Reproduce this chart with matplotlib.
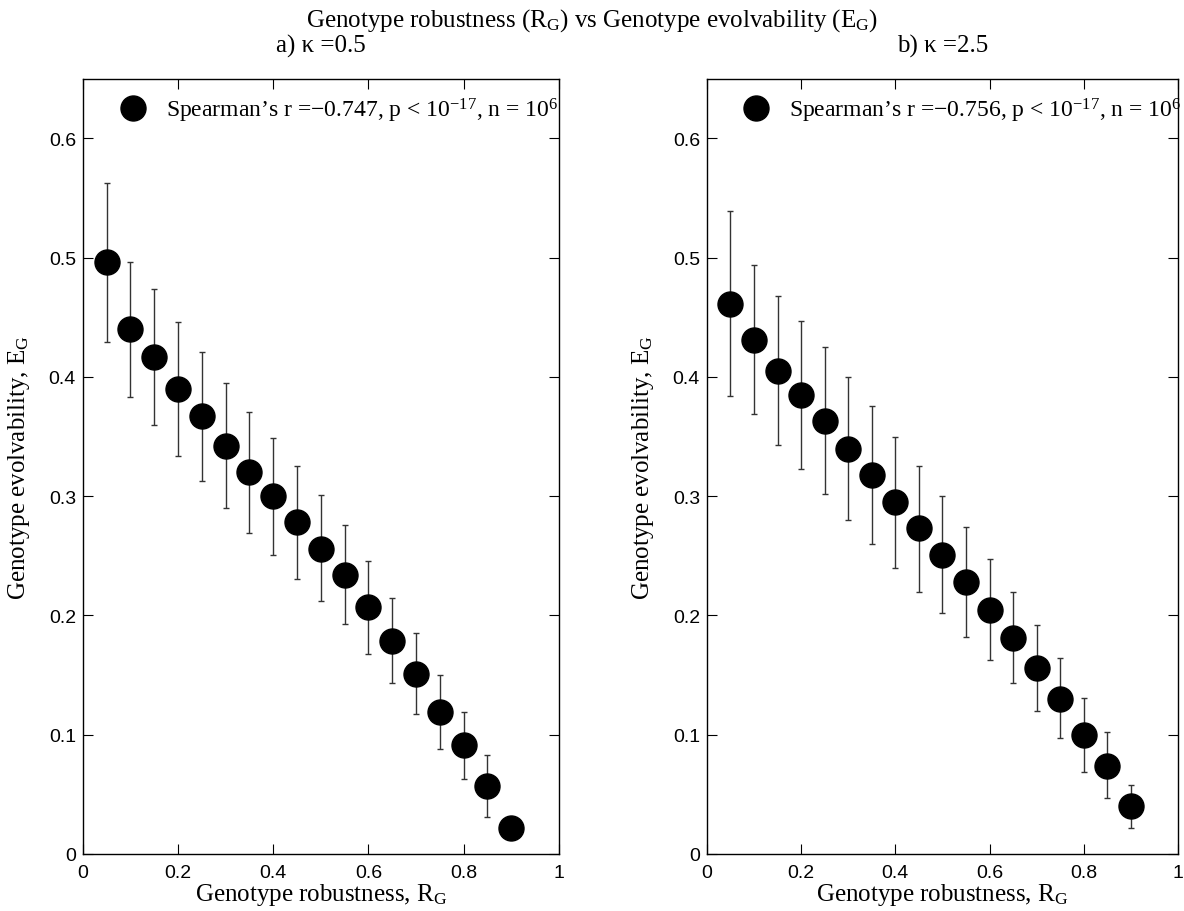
import matplotlib
matplotlib.use("Agg")
import matplotlib.pyplot as plt
from matplotlib.lines import Line2D

plt.rcParams['font.family'] = ['Liberation Serif', 'DejaVu Serif']
plt.rcParams['mathtext.fontset'] = 'custom'
plt.rcParams['mathtext.rm'] = 'Liberation Serif'
plt.rcParams['mathtext.it'] = 'Liberation Serif:italic'

# genotype robustness bins
rg = [0.05, 0.10, 0.15, 0.20, 0.25, 0.30, 0.35, 0.40, 0.45,
      0.50, 0.55, 0.60, 0.65, 0.70, 0.75, 0.80, 0.85, 0.90]

# panel a, kappa = 0.5
eg_a = [0.496, 0.440, 0.417, 0.390, 0.367, 0.342, 0.320, 0.300, 0.278,
        0.256, 0.234, 0.207, 0.179, 0.151, 0.119, 0.091, 0.057, 0.022]
hi_a = [0.563, 0.496, 0.474, 0.446, 0.421, 0.395, 0.371, 0.349, 0.325,
        0.301, 0.276, 0.246, 0.215, 0.185, 0.150, 0.119, 0.083, 0.024]
lo_a = [0.429, 0.383, 0.360, 0.334, 0.313, 0.290, 0.269, 0.251, 0.231,
        0.212, 0.193, 0.168, 0.143, 0.117, 0.088, 0.063, 0.031, 0.020]

# panel b, kappa = 2.5
eg_b = [0.461, 0.431, 0.405, 0.385, 0.363, 0.340, 0.318, 0.295, 0.273,
        0.251, 0.228, 0.205, 0.181, 0.156, 0.130, 0.100, 0.074, 0.040]
hi_b = [0.539, 0.494, 0.468, 0.447, 0.425, 0.400, 0.376, 0.350, 0.325,
        0.300, 0.274, 0.247, 0.220, 0.192, 0.164, 0.131, 0.102, 0.058]
lo_b = [0.384, 0.369, 0.343, 0.323, 0.302, 0.280, 0.260, 0.240, 0.220,
        0.202, 0.182, 0.163, 0.143, 0.120, 0.097, 0.069, 0.047, 0.022]

panels = [
    ('a) \u03ba =0.5', eg_a, lo_a, hi_a, '\u22120.747'),
    ('b) \u03ba =2.5', eg_b, lo_b, hi_b, '\u22120.756'),
]

fig = plt.figure(figsize=(11.84, 9.12), dpi=100)
boxes = [(0.070, 0.402), (0.597, 0.398)]

for (left, width), (sub, eg, lo, hi, r) in zip(boxes, panels):
    ax = fig.add_axes([left, 0.0625, width, 0.85])
    yerr = [[m - l for m, l in zip(eg, lo)], [h - m for m, h in zip(eg, hi)]]
    ax.errorbar(rg, eg, yerr=yerr, fmt='none', ecolor='#333333',
                elinewidth=1.0, capsize=2.5, capthick=1.0)
    ax.plot(rg, eg, 'o', color='black', markersize=18, zorder=3)
    ax.set_xlim(0, 1)
    ax.set_ylim(0, 0.65)
    ax.set_xticks([0, 0.2, 0.4, 0.6, 0.8, 1])
    ax.set_xticklabels(['0', '0.2', '0.4', '0.6', '0.8', '1'])
    ax.set_yticks([0, 0.1, 0.2, 0.3, 0.4, 0.5, 0.6])
    ax.set_yticklabels(['0', '0.1', '0.2', '0.3', '0.4', '0.5', '0.6'])
    ax.tick_params(direction='in', length=7, width=0.8, top=True, right=True,
                   labelsize=14)
    ax.tick_params(axis='x', pad=7)
    ax.tick_params(axis='y', pad=5)
    for lab in ax.get_xticklabels() + ax.get_yticklabels():
        lab.set_family('Liberation Sans')
    for s in ax.spines.values():
        s.set_linewidth(1.0)
    ax.set_xlabel('Genotype robustness, $\\mathrm{R_G}$', fontsize=18, labelpad=0)
    ax.set_ylabel('Genotype evolvability, $\\mathrm{E_G}$', fontsize=18, labelpad=12)
    ax.text(0.5, 1.043, sub, transform=ax.transAxes, ha='center', va='center',
            fontsize=18)
    proxy = Line2D([], [], marker='o', color='black', linestyle='none', markersize=18)
    ax.legend([proxy], ["Spearman\u2019s r =" + r + ", p < $10^{-17}$, n = $10^{6}$"],
              loc='upper left', bbox_to_anchor=(0.045, 1.0), frameon=False,
              fontsize=17, handlelength=1.0, handletextpad=0.9, borderaxespad=0.3)

fig.text(0.5, 0.977, 'Genotype robustness ($\\mathrm{R_G}$) vs Genotype evolvability ($\\mathrm{E_G}$)',
         ha='center', va='center', fontsize=18)

fig.savefig('out.png', dpi=100)
